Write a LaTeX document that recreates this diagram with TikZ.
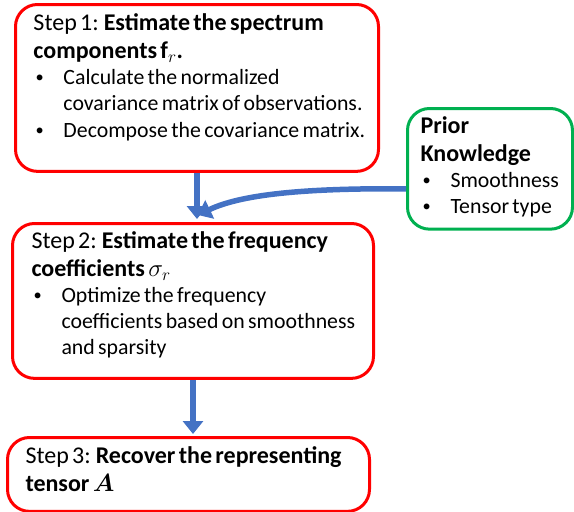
\documentclass[tikz,border=0pt]{standalone}
\usepackage{fontspec}
\setmainfont{Carlito}
\usepackage{amsmath}
\usepackage{bm}
\usetikzlibrary{arrows.meta,positioning,calc}
\definecolor{stepred}{RGB}{255,0,0}
\definecolor{priorgreen}{RGB}{0,176,80}
\definecolor{flowblue}{RGB}{68,114,196}
\newcommand{\titlesize}{\fontsize{24}{28}\selectfont}
\newcommand{\bodysize}{\fontsize{21.8}{26}\selectfont}
\newcommand{\bul}[1]{\par\noindent\makebox[30pt][l]{\hspace{2pt}\raisebox{0.15ex}{\scalebox{0.75}{\textbullet}}}%
  \begin{tabular}[t]{@{}l@{}}#1\end{tabular}}
\newcommand{\tailgap}[1]{\rule[-#1]{0pt}{#1}}

\begin{document}
\begin{tikzpicture}[x=1pt,y=-1pt]
      \tikzset{stepbox/.style={draw=stepred, line width=3pt, rounded corners=22pt,
          align=left, anchor=north west, inner xsep=18pt, inner ysep=9pt},
        priorbox/.style={stepbox, draw=priorgreen, inner xsep=13pt, inner ysep=8pt},
        flow/.style={draw=flowblue, line width=5.5pt, -{Triangle[width=20pt,length=13pt]}}}
      \useasboundingbox (0,0) rectangle (574,512);
      \node[stepbox, text width=327pt] (step1) at (14,3)
        {\titlesize Step 1: \textbf{Estimate the spectrum}\\\textbf{components $\mathbf{f}_r$.}\par
         \bodysize\bul{Calculate the normalized\\covariance matrix of observations.}
         \bul{Decompose the covariance matrix.\tailgap{25pt}}\par};
      \node[priorbox, text width=139pt] (prior) at (406,107)
        {\titlesize\textbf{Prior}\\\textbf{Knowledge}\par
         \bodysize\bul{Smoothness}
         \bul{Tensor type}\par};
      \node[stepbox, text width=323pt, inner xsep=19pt, inner ysep=8pt] (step2) at (11,222)
        {\titlesize Step 2: \textbf{Estimate the frequency}\\\textbf{coefficients} $\sigma_r$\par
         \bodysize\bul{Optimize the frequency\\coefficients based on smoothness\\and sparsity\tailgap{16pt}}\par};
      \node[stepbox, text width=326pt, inner ysep=9pt] (step3) at (6,436)
        {\titlesize Step 3: \textbf{Recover the representing}\\\textbf{tensor $\bm{A}$}\tailgap{11pt}\par};
      \coordinate (merge) at (198,215);
      \draw[flow, shorten >=3pt] (step1.south) -- (step1.south |- step2.north);
      \draw[flow, shorten >=2pt] (step2.south) -- (step2.south |- step3.north);
      \draw[flow] ($(prior.west)+(0,20)$) .. controls (300,188) and (240,195) .. (merge);
    \end{tikzpicture}
\end{document}
